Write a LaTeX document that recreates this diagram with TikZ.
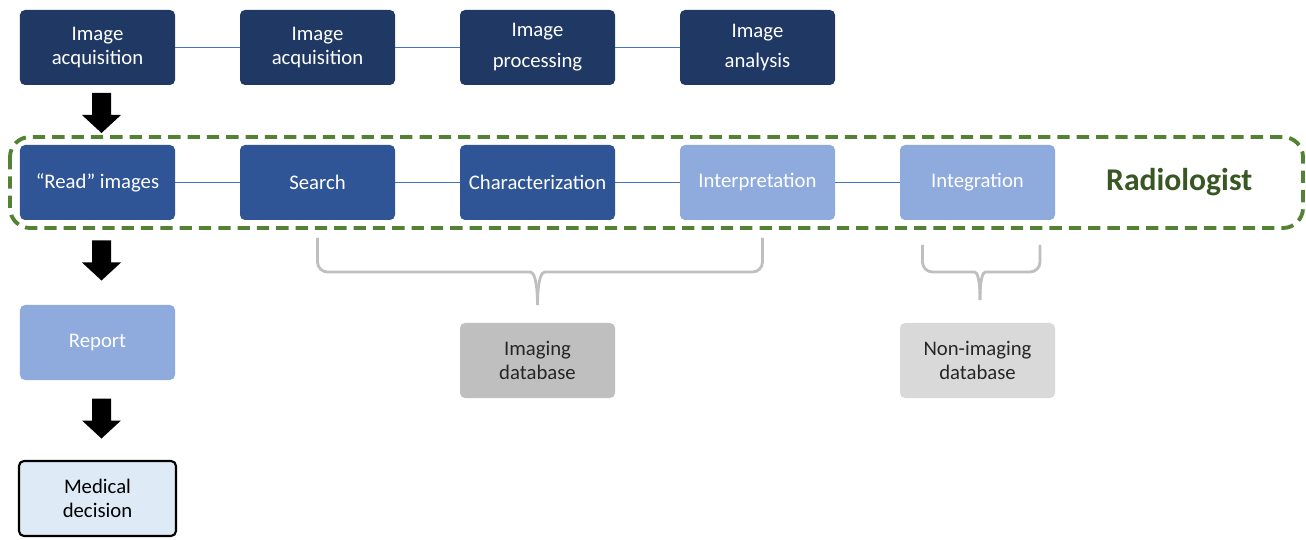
\documentclass[tikz,border=0pt]{standalone}
\usepackage{fontspec}
\setmainfont{Carlito}
\usetikzlibrary{arrows.meta, calc, positioning}
\definecolor{navy}{RGB}{32,56,100}
\definecolor{midblue}{RGB}{47,85,151}
\definecolor{lightblue}{RGB}{143,170,220}
\definecolor{paleblue}{RGB}{222,235,247}
\definecolor{linkblue}{RGB}{68,114,196}
\definecolor{radgreen}{RGB}{84,130,53}
\definecolor{darkgreen}{RGB}{56,87,35}
\definecolor{dbgray}{RGB}{191,191,191}
\definecolor{dblight}{RGB}{217,217,217}
\definecolor{textgray}{RGB}{38,38,38}

\begin{document}
\begin{tikzpicture}[
    box/.style={rectangle, rounded corners=0.1cm, minimum width=3.1cm, minimum height=1.5cm, align=center, font=\fontsize{11.8}{13.5}\selectfont, text=white, inner sep=2pt, outer sep=0pt},
    link/.style={draw=linkblue, line width=0.8pt},
    brace/.style={draw=dbgray, line width=1.6pt, rounded corners=0.2cm},
    radbox/.style={draw=radgreen, line width=2.2pt, dash pattern=on 7pt off 4pt, rounded corners=0.4cm}]
    \useasboundingbox (0,0) rectangle (26.12,-10.8);

    % top row
    \node[box, fill=navy] (a1) at (1.95,-0.95) {Image\\acquisition};
    \node[box, fill=navy, right=1.3cm of a1] (a2) {Image\\acquisition};
    \node[box, fill=navy, right=1.3cm of a2] (a3) {Image\\[4pt]processing};
    \node[box, fill=navy, right=1.3cm of a3] (a4) {Image\\[4pt]analysis};

    % radiologist row
    \node[box, fill=midblue, below=1.2cm of a1] (b1) {``Read'' images};
    \node[box, fill=midblue, right=1.3cm of b1] (b2) {Search};
    \node[box, fill=midblue, right=1.3cm of b2] (b3) {Characterization};
    \node[box, fill=lightblue, right=1.3cm of b3] (b4) {Interpretation};
    \node[box, fill=lightblue, right=1.3cm of b4] (b5) {Integration};
    \node[right=0.9cm of b5, font=\fontsize{18}{20}\selectfont\bfseries, text=darkgreen] (radtxt) {Radiologist};
    \coordinate (radedge) at (26.06,0);
    \draw[radbox] ([shift={(-0.2cm,0.16cm)}]b1.north west) rectangle ([yshift=-0.16cm]b1.south -| radedge);

    % left column
    \node[box, fill=lightblue, below=1.7cm of b1] (rep) {Report};
    \node[box, fill=paleblue, draw=black, line width=1.2pt, text=black, minimum width=3.14cm, minimum height=1.5cm, below=1.62cm of rep] (med) {Medical\\decision};

    % databases
    \node[box, fill=dbgray, text=textgray, below=2.06cm of b3] (db1) {Imaging\\database};
    \node[box, fill=dblight, text=textgray, below=2.06cm of b5] (db2) {Non-imaging\\database};

    % links
    \foreach \s/\t in {a1/a2, a2/a3, a3/a4, b1/b2, b2/b3, b3/b4, b4/b5}
        \draw[link] (\s) -- (\t);

    % block arrows
    \foreach \s/\t in {a1/b1, b1/rep, rep/med}
        \fill ($(\s.south)!0.5!(\t.north)+(0.08,0.04)$) ++(-0.19,0.4) -- ++(0.38,0) -- ++(0,-0.44) -- ++(0.2,0) -- ++(-0.39,-0.36) -- ++(-0.39,0.36) -- ++(0.2,0) -- cycle;

    % braces
    \draw[brace] ([yshift=-0.36cm]b2.south) -- ([yshift=-1.04cm]b2.south) -- ([xshift=-0.34cm,yshift=-1.04cm]b3.south)
        .. controls ([xshift=-0.08cm,yshift=-1.04cm]b3.south) and ([yshift=-1.2cm]b3.south) .. ([yshift=-1.7cm]b3.south);
    \draw[brace] ([xshift=0.1cm,yshift=-0.36cm]b4.south) -- ([xshift=0.1cm,yshift=-1.04cm]b4.south) -- ([xshift=0.34cm,yshift=-1.04cm]b3.south)
        .. controls ([xshift=0.08cm,yshift=-1.04cm]b3.south) and ([yshift=-1.2cm]b3.south) .. ([yshift=-1.7cm]b3.south);
    \draw[brace] ([xshift=-1.1cm,yshift=-0.5cm]b5.south) -- ([xshift=-1.1cm,yshift=-1.04cm]b5.south) -- ([xshift=-0.26cm,yshift=-1.04cm]b5.south)
        .. controls ([xshift=0cm,yshift=-1.04cm]b5.south) and ([xshift=0.05cm,yshift=-1.2cm]b5.south) .. ([xshift=0.05cm,yshift=-1.6cm]b5.south);
    \draw[brace] ([xshift=1.25cm,yshift=-0.5cm]b5.south) -- ([xshift=1.25cm,yshift=-1.04cm]b5.south) -- ([xshift=0.36cm,yshift=-1.04cm]b5.south)
        .. controls ([xshift=0.1cm,yshift=-1.04cm]b5.south) and ([xshift=0.05cm,yshift=-1.2cm]b5.south) .. ([xshift=0.05cm,yshift=-1.6cm]b5.south);
\end{tikzpicture}
\end{document}
